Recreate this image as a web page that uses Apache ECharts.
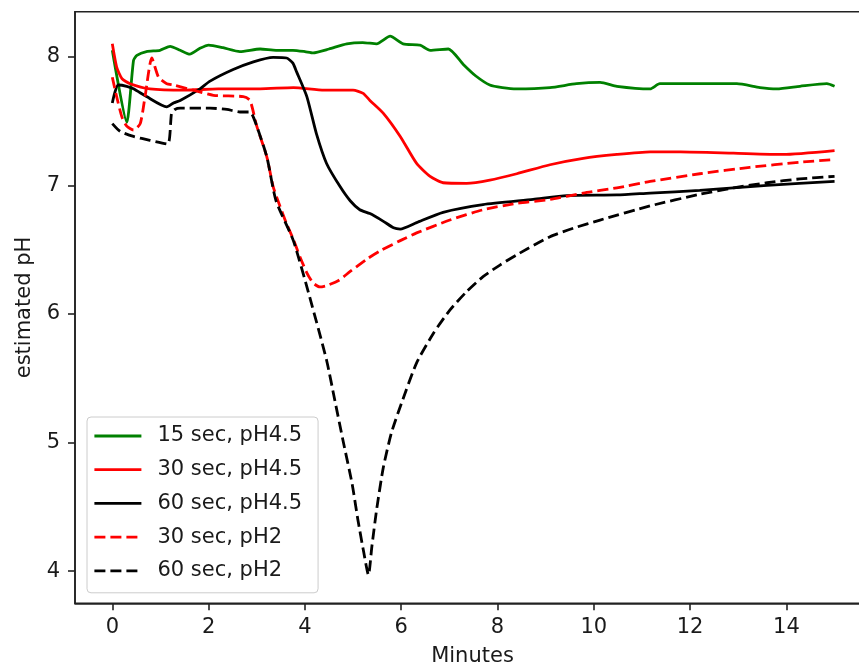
<!DOCTYPE html>
<html>
<head>
<meta charset="utf-8">
<script src="https://cdn.jsdelivr.net/npm/echarts@6/dist/echarts.min.js"></script>
<style>
  html, body { margin: 0; padding: 0; background: #fff; }
  #chart { width: 859px; height: 667px; }
</style>
</head>
<body>
<div id="chart"></div>
<script>
// Time axis (minutes) and estimated pH for each treatment
const green15T = [0, 0.3, 0.44, 0.51, 0.71, 0.99, 1.2, 1.41, 1.61, 1.82, 2.0, 2.3, 2.65, 3.07, 3.4, 3.75, 4.0, 4.17, 4.5, 4.87, 5.2, 5.49, 5.77, 6.04, 6.39, 6.6, 6.98, 7.29, 7.55, 7.84, 8.1, 8.4, 9.09, 9.64, 10.13, 10.48, 11.17, 11.37, 12.2, 12.97, 13.45, 13.8, 14.28, 14.84, 15.0];
const green15PH = [8.05, 7.49, 7.97, 8.01, 8.04, 8.05, 8.08, 8.05, 8.02, 8.065, 8.09, 8.07, 8.04, 8.06, 8.05, 8.05, 8.04, 8.03, 8.06, 8.10, 8.11, 8.10, 8.16, 8.10, 8.09, 8.05, 8.06, 7.94, 7.85, 7.78, 7.76, 7.75, 7.76, 7.79, 7.80, 7.77, 7.75, 7.79, 7.79, 7.79, 7.76, 7.75, 7.77, 7.79, 7.77];

const red30T = [0, 0.09, 0.2, 0.37, 0.78, 1.5, 2.2, 3.07, 3.76, 4.4, 5.0, 5.21, 5.35, 5.63, 5.98, 6.32, 6.6, 6.87, 7.36, 7.84, 8.4, 9.09, 9.78, 10.48, 11.17, 11.8, 12.9, 13.93, 15.0];
const red30PH = [8.10, 7.92, 7.83, 7.79, 7.75, 7.74, 7.75, 7.75, 7.76, 7.74, 7.74, 7.715, 7.66, 7.56, 7.38, 7.17, 7.07, 7.02, 7.015, 7.04, 7.09, 7.16, 7.21, 7.24, 7.26, 7.26, 7.25, 7.24, 7.27];

const black60T = [0, 0.12, 0.3, 0.44, 0.71, 1.13, 1.27, 1.41, 1.82, 2.03, 2.51, 2.93, 3.34, 3.62, 3.75, 3.83, 4.04, 4.24, 4.45, 4.73, 4.94, 5.14, 5.35, 5.63, 5.84, 5.98, 6.32, 6.87, 7.7, 8.74, 9.44, 10.48, 11.17, 12.2, 13.6, 15.0];
const black60PH = [7.64, 7.78, 7.77, 7.75, 7.69, 7.61, 7.64, 7.66, 7.75, 7.81, 7.90, 7.96, 7.995, 7.99, 7.95, 7.88, 7.69, 7.40, 7.17, 6.99, 6.88, 6.81, 6.78, 6.72, 6.67, 6.66, 6.71, 6.79, 6.85, 6.89, 6.92, 6.925, 6.94, 6.96, 7.0, 7.03];

const red30AcidT = [0, 0.09, 0.2, 0.3, 0.44, 0.58, 0.68, 0.82, 0.96, 1.13, 1.27, 1.68, 2.1, 2.72, 2.86, 3.0, 3.21, 3.34, 3.48, 3.62, 3.76, 3.9, 4.04, 4.17, 4.31, 4.45, 4.7, 4.94, 5.3, 5.56, 5.98, 6.32, 7.01, 7.7, 8.4, 9.09, 9.78, 10.48, 11.17, 12.2, 13.24, 14.28, 15.0];
const red30AcidPH = [7.84, 7.69, 7.53, 7.46, 7.43, 7.48, 7.69, 7.99, 7.84, 7.79, 7.78, 7.74, 7.70, 7.69, 7.66, 7.46, 7.22, 6.99, 6.84, 6.70, 6.58, 6.44, 6.32, 6.24, 6.21, 6.22, 6.26, 6.33, 6.43, 6.49, 6.57, 6.63, 6.73, 6.81, 6.86, 6.89, 6.94, 6.98, 7.03, 7.09, 7.14, 7.18, 7.20];

const black60AcidT = [0, 0.16, 0.44, 0.78, 1.15, 1.23, 1.3, 1.41, 2.03, 2.38, 2.65, 2.86, 3.0, 3.21, 3.4, 3.76, 4.1, 4.45, 4.62, 4.8, 4.98, 5.1, 5.22, 5.32, 5.39, 5.49, 5.63, 5.8, 6.0, 6.32, 6.67, 7.01, 7.35, 7.7, 8.05, 8.4, 9.09, 9.6, 10.13, 11.17, 12.2, 12.9, 13.6, 14.28, 15.0];
const black60AcidPH = [7.48, 7.42, 7.38, 7.35, 7.32, 7.56, 7.59, 7.60, 7.60, 7.59, 7.57, 7.57, 7.46, 7.22, 6.88, 6.57, 6.13, 5.64, 5.33, 5.0, 4.68, 4.40, 4.15, 3.97, 4.19, 4.48, 4.81, 5.08, 5.30, 5.62, 5.85, 6.03, 6.17, 6.29, 6.38, 6.46, 6.60, 6.67, 6.73, 6.84, 6.93, 6.98, 7.02, 7.05, 7.07];

const xTicks = [0, 2, 4, 6, 8, 10, 12, 14];
const yTicks = [4, 5, 6, 7, 8];

const zip = (t, v) => t.map((x, i) => [x, v[i]]);

const textColor = '#1a1a1a';
const axisColor = '#222';
const fontFamily = 'DejaVu Sans';
const fontSize = 21;
const lineWidth = 2.8;

function lineSeries(name, t, v, color, dashed) {
  return {
    name: name,
    type: 'line',
    data: zip(t, v),
    symbol: 'none',
    showSymbol: false,
    smooth: 0.2,
    clip: true,
    lineStyle: { color: color, width: lineWidth, type: dashed ? [11, 5] : 'solid', cap: 'butt', join: 'round' },
    itemStyle: { color: color },
    emphasis: { disabled: true },
    animation: false
  };
}

const chart = echarts.init(document.getElementById('chart'), null, { renderer: 'canvas' });
chart.setOption({
  animation: false,
  backgroundColor: '#fff',
  textStyle: { fontFamily: fontFamily },
  grid: {
    left: 75, top: 11.7, width: 795, height: 591.6,
    outerBoundsMode: 'none',
    show: true, borderColor: axisColor, borderWidth: 1.6, backgroundColor: 'transparent'
  },
  xAxis: {
    type: 'value',
    min: -0.775, max: 15.736,
    name: 'Minutes', nameLocation: 'middle', nameGap: 43,
    nameTextStyle: { color: textColor, fontSize: fontSize, fontFamily: fontFamily },
    axisLine: { show: true, onZero: false, lineStyle: { color: axisColor, width: 1.6 } },
    axisTick: { show: true, inside: false, length: 7, lineStyle: { color: axisColor, width: 1.6 }, customValues: xTicks },
    axisLabel: { color: textColor, fontSize: fontSize, fontFamily: fontFamily, margin: 14, customValues: xTicks },
    splitLine: { show: false }
  },
  yAxis: {
    type: 'value',
    min: 3.75, max: 8.35,
    name: 'estimated pH', nameLocation: 'middle', nameGap: 40, nameRotate: 90,
    nameTextStyle: { color: textColor, fontSize: fontSize, fontFamily: fontFamily },
    axisLine: { show: true, onZero: false, lineStyle: { color: axisColor, width: 1.6 } },
    axisTick: { show: true, inside: false, length: 7, lineStyle: { color: axisColor, width: 1.6 }, customValues: yTicks },
    axisLabel: { color: textColor, fontSize: fontSize, fontFamily: fontFamily, margin: 15, customValues: yTicks },
    splitLine: { show: false }
  },
  legend: {
    orient: 'vertical',
    left: 87, top: 417,
    itemWidth: 47, itemHeight: 14, itemGap: 12.7,
    padding: [8.5, 16, 11.5, 6],
    borderColor: '#cccccc', borderWidth: 1, borderRadius: 4,
    backgroundColor: 'rgba(255,255,255,0.8)',
    itemStyle: { opacity: 0 },
    lineStyle: { width: lineWidth },
    textStyle: { color: textColor, fontSize: fontSize, fontFamily: fontFamily, padding: [0, 0, 0, 11] },
    selectedMode: false
  },
  series: [
    lineSeries('15 sec, pH4.5', green15T, green15PH, '#008000', false),
    lineSeries('30 sec, pH4.5', red30T, red30PH, '#ff0000', false),
    lineSeries('60 sec, pH4.5', black60T, black60PH, '#000000', false),
    lineSeries('30 sec, pH2', red30AcidT, red30AcidPH, '#ff0000', true),
    lineSeries('60 sec, pH2', black60AcidT, black60AcidPH, '#000000', true)
  ]
});
</script>
</body>
</html>
